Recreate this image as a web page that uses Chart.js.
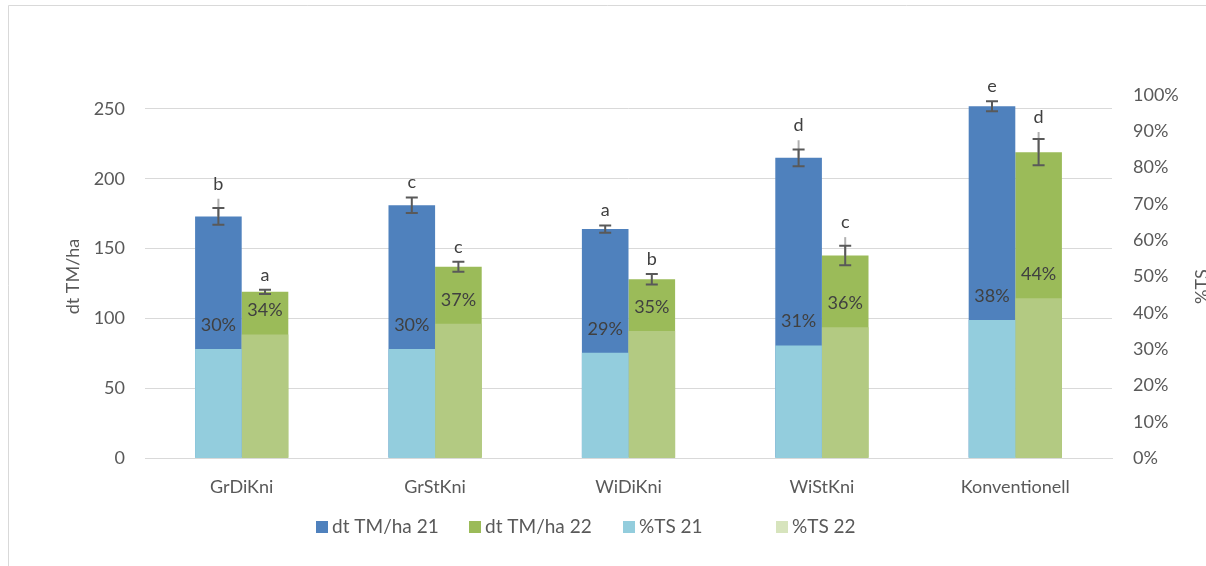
<!DOCTYPE html>
<html><head><meta charset="utf-8">
<script src="https://cdn.jsdelivr.net/npm/chart.js@4/dist/chart.umd.min.js"></script>
<style>html,body{margin:0;padding:0;background:#fff;overflow:hidden}</style>
</head><body>
<canvas id="c" width="1206" height="566"></canvas>
<script>
// ---- data ----
const categories = ['GrDiKni', 'GrStKni', 'WiDiKni', 'WiStKni', 'Konventionell'];
const dtTM21 = [173, 181, 164, 215, 252];
const dtTM22 = [119, 137, 128, 145, 219];
const ts21 = [30, 30, 29, 31, 38];
const ts22 = [34, 37, 35, 36, 44];
const err21 = [6, 5.5, 2.6, 6, 3.6];
const err22 = [1.5, 3.6, 3.8, 7, 9.4];
const ext21 = [12.7, 0, 0, 12.6, 0];
const ext22 = [0, 0, 0, 13.2, 14.5];
const letters21 = ['b', 'c', 'a', 'd', 'e'];
const letters22 = ['a', 'c', 'b', 'c', 'd'];
const leftTicks = [0, 50, 100, 150, 200, 250];
const rightTicks = [0, 10, 20, 30, 40, 50, 60, 70, 80, 90, 100];
const seriesNames = ['dt TM/ha 21', 'dt TM/ha 22', '%TS 21', '%TS 22'];

const FONT = 'Lato, "Open Sans", sans-serif';
const COL = { b: '#4f81bd', g: '#9bbb59', lb: '#93cddd', lg: '#b3ca82', lgLegend: '#d7e4bd' };
const legendColors = [COL.b, COL.g, COL.lb, COL.lgLegend];

const overlay = {
  id: 'overlay',
  beforeDraw(chart) {
    const ctx = chart.ctx;
    ctx.save();
    ctx.fillStyle = '#fff';
    ctx.fillRect(0, 0, chart.width, chart.height);
    ctx.strokeStyle = '#d9d9d9';
    ctx.lineWidth = 1;
    ctx.beginPath();
    ctx.moveTo(8.5, chart.height);
    ctx.lineTo(8.5, 5.5);
    ctx.lineTo(chart.width, 5.5);
    ctx.stroke();
    ctx.restore();
  },
  afterDatasetsDraw(chart) {
    const ctx = chart.ctx;
    const y = chart.scales.y;
    ctx.save();
    ctx.font = '18px ' + FONT;
    ctx.textAlign = 'center';
    ctx.textBaseline = 'middle';
    // percent labels
    [[2, ts21], [3, ts22]].forEach(([di, vals]) => {
      chart.getDatasetMeta(di).data.forEach((bar, i) => {
        ctx.fillStyle = '#404040';
        ctx.fillText(Math.round(vals[i]) + '%', bar.x, bar.y - 24);
      });
    });
    // error bars + letters
    [[0, dtTM21, err21, ext21, letters21], [1, dtTM22, err22, ext22, letters22]].forEach(([di, vals, err, ext, lets]) => {
      chart.getDatasetMeta(di).data.forEach((bar, i) => {
        const v = vals[i], x = bar.x;
        const yT = y.getPixelForValue(v + err[i]);
        const yB = y.getPixelForValue(v - err[i]);
        let top = yT;
        if (ext[i] > 0) {
          const ye = y.getPixelForValue(v + ext[i]);
          ctx.strokeStyle = '#b0b0b0';
          ctx.lineWidth = 2;
          ctx.beginPath();
          ctx.moveTo(x, bar.y); ctx.lineTo(x, ye);
          ctx.stroke();
          top = Math.min(top, ye);
        }
        ctx.strokeStyle = '#595959';
        ctx.lineWidth = 2;
        ctx.beginPath();
        ctx.moveTo(x, yT); ctx.lineTo(x, yB);
        ctx.moveTo(x - 6, yT); ctx.lineTo(x + 6, yT);
        ctx.moveTo(x - 6, yB); ctx.lineTo(x + 6, yB);
        ctx.stroke();
        ctx.fillStyle = '#404040';
        ctx.fillText(lets[i], x, top - 15);
      });
    });
    ctx.restore();
  },
  afterDraw(chart) {
    const ctx = chart.ctx;
    const ca = chart.chartArea;
    ctx.save();
    ctx.font = '18px ' + FONT;
    ctx.fillStyle = '#595959';
    ctx.textAlign = 'center';
    ctx.textBaseline = 'middle';
    // axis titles
    ctx.save();
    ctx.translate(73, (ca.top + ca.bottom) / 2);
    ctx.rotate(-Math.PI / 2);
    ctx.fillText('dt TM/ha', 0, 0);
    ctx.restore();
    ctx.save();
    ctx.translate(1202, (ca.top + ca.bottom) / 2 + 10);
    ctx.rotate(-Math.PI / 2);
    ctx.fillText('%TS', 0, 0);
    ctx.restore();
    // legend (Excel-style equal slots)
    const x0 = 316, slot = 153.3, ly = 527;
    ctx.font = '19px ' + FONT;
    ctx.textAlign = 'left';
    seriesNames.forEach((name, i) => {
      const sx = Math.round(x0 + i * slot);
      ctx.fillStyle = legendColors[i];
      ctx.fillRect(sx, ly - 6, 12, 12);
      ctx.fillStyle = '#595959';
      ctx.fillText(name, sx + 16, ly);
    });
    ctx.restore();
  }
};

new Chart(document.getElementById('c'), {
  type: 'bar',
  data: {
    labels: categories,
    datasets: [
      { label: seriesNames[0], data: dtTM21, backgroundColor: COL.b, yAxisID: 'y', stack: 'a', order: 2 },
      { label: seriesNames[1], data: dtTM22, backgroundColor: COL.g, yAxisID: 'y', stack: 'b', order: 2 },
      { label: seriesNames[2], data: ts21, backgroundColor: COL.lb, yAxisID: 'y2', stack: 'a', order: 1 },
      { label: seriesNames[3], data: ts22, backgroundColor: COL.lg, yAxisID: 'y2', stack: 'b', order: 1 }
    ]
  },
  options: {
    responsive: false,
    animation: false,
    devicePixelRatio: 1,
    layout: { padding: { top: 95, left: 0, right: 0, bottom: 0 } },
    datasets: { bar: { categoryPercentage: 0.482, barPercentage: 1, borderWidth: 0 } },
    plugins: { legend: { display: false }, tooltip: { enabled: false } },
    scales: {
      x: {
        stacked: true,
        grid: { display: false, drawTicks: false },
        border: { display: true, color: '#d9d9d9', width: 1 },
        ticks: { color: '#595959', font: { family: FONT, size: 18 }, padding: 18, maxRotation: 0 },
        afterFit(s) { s.height = 108; }
      },
      y: {
        position: 'left',
        stacked: false,
        min: 0, max: 260,
        afterBuildTicks(s) { s.ticks = leftTicks.map(v => ({ value: v })); },
        grid: { color: '#d9d9d9', drawTicks: false },
        border: { display: false },
        ticks: { color: '#595959', font: { family: FONT, size: 18 }, padding: 20 },
        afterFit(s) { s.width = 145; }
      },
      y2: {
        position: 'right',
        stacked: false,
        min: 0, max: 100,
        afterBuildTicks(s) { s.ticks = rightTicks.map(v => ({ value: v })); },
        grid: { display: false, drawTicks: false },
        border: { display: false },
        ticks: { color: '#595959', font: { family: FONT, size: 18 }, padding: 21, callback: v => v + '%' },
        afterFit(s) { s.width = 94; }
      }
    }
  },
  plugins: [overlay]
});
</script>
</body></html>
